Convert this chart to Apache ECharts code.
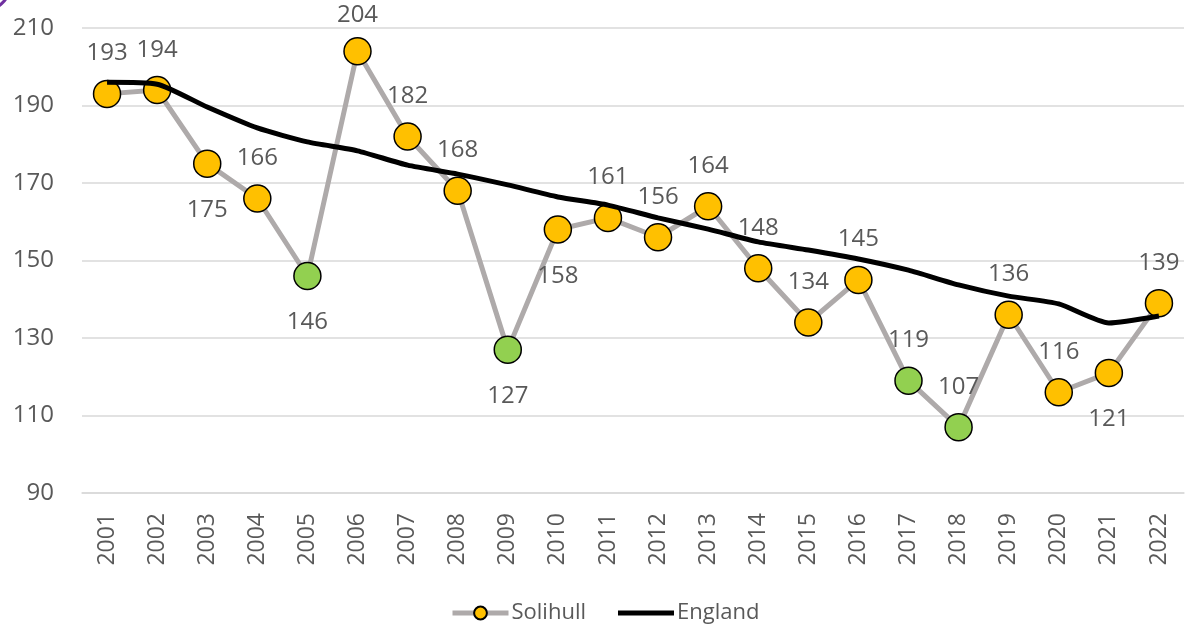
<!DOCTYPE html>
<html>
<head>
<meta charset="utf-8">
<script src="https://cdn.jsdelivr.net/npm/echarts@6/dist/echarts.min.js"></script>
<style>html,body{margin:0;padding:0;background:#fff}#c{width:1186px;height:630px}</style>
</head>
<body>
<div id="c"></div>
<script>
const years = ['2001','2002','2003','2004','2005','2006','2007','2008','2009','2010','2011','2012','2013','2014','2015','2016','2017','2018','2019','2020','2021','2022'];
const solihull = [193,194,175,166,146,204,182,168,127,158,161,156,164,148,134,145,119,107,136,116,121,139];
const england = [196,195.5,189.6,184.2,180.6,178.3,174.6,172.3,169.5,166.4,164.3,161,158.1,154.8,152.7,150.4,147.5,143.7,140.8,138.8,133.9,135.7];
const betterYears = ['2005','2009','2017','2018'];
const labelBelowYears = ['2003','2005','2009','2010','2021'];
const yTicks = {min:90, max:210, interval:20};

const font = 'Open Sans, Liberation Sans, sans-serif';
const chart = echarts.init(document.getElementById('c'));
const solData = solihull.map((v,i)=>{
  const below = labelBelowYears.includes(years[i]);
  return {
    value: v,
    itemStyle: {color: betterYears.includes(years[i]) ? '#92D050' : '#FFC000', borderColor:'#000', borderWidth:1.5},
    label: {position: below ? 'bottom' : 'top', distance: below ? 20 : (years[i]==='2006' ? 10 : 14)}
  };
});
chart.setOption({
  animation:false,
  grid:{left:82,right:2,top:28,bottom:137},
  xAxis:{type:'category',data:years,boundaryGap:true,
    axisLine:{show:true,lineStyle:{color:'#D9D9D9',width:1.5}},axisTick:{show:false},
    axisLabel:{rotate:90,color:'#595959',fontSize:23,fontFamily:font,margin:20}},
  yAxis:{type:'value',min:yTicks.min,max:yTicks.max,interval:yTicks.interval,
    axisLine:{show:false},axisTick:{show:false},
    axisLabel:{color:'#595959',fontSize:24,fontFamily:font,margin:28},
    splitLine:{lineStyle:{color:'#D9D9D9',width:1.5}}},
  legend:{bottom:1,left:445,itemWidth:56,itemHeight:16,itemGap:32,
    textStyle:{color:'#595959',fontSize:22,fontFamily:font,padding:[0,0,0,-2]},
    data:[{name:'Solihull',lineStyle:{width:5,color:'#AEAAAA'}},{name:'England',icon:'path://M0,0 L56,0 L56,5 L0,5 Z'}]},
  series:[
    {name:'Solihull',type:'line',data:solData,symbol:'circle',symbolSize:27,
      lineStyle:{color:'#AEAAAA',width:5},itemStyle:{color:'#FFC000',borderColor:'#000',borderWidth:1.5},
      label:{show:true,color:'#595959',fontSize:24,fontFamily:font},z:2},
    {name:'England',type:'line',data:england,symbol:'none',smooth:0.2,
      lineStyle:{color:'#000',width:5},itemStyle:{color:'#000'},z:3}
  ],
  graphic:[{type:'arc',shape:{cx:-20,cy:-20,r:32,startAngle:0,endAngle:Math.PI/2},style:{stroke:'#7030A0',lineWidth:3,fill:null}}]
});
</script>
</body>
</html>
